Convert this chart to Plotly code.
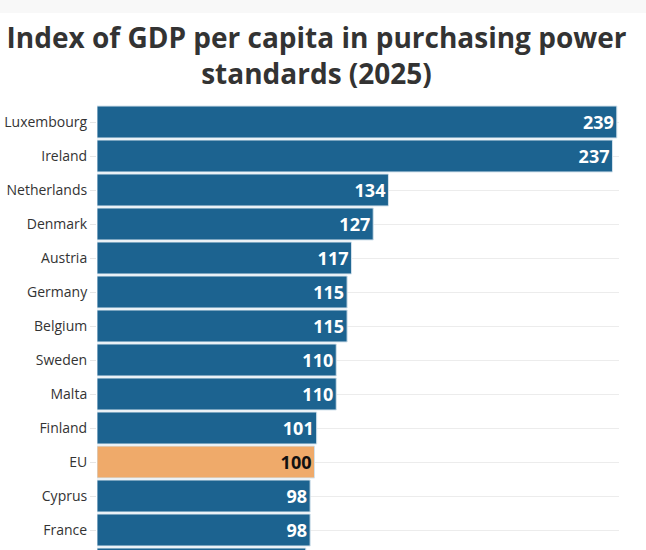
import plotly.graph_objects as go

countries = ["Luxembourg", "Ireland", "Netherlands", "Denmark", "Austria", "Germany",
             "Belgium", "Sweden", "Malta", "Finland", "EU", "Cyprus", "France", "Italy"]
values = [239, 237, 134, 127, 117, 115, 115, 110, 110, 101, 100, 98, 98, 96]

BLUE = "#1c6390"
ORANGE = "#efaa6a"
colors = [ORANGE if c == "EU" else BLUE for c in countries]
text_colors = ["#111111" if c == "EU" else "#ffffff" for c in countries]

fig = go.Figure(go.Bar(
    x=values, y=countries, orientation="h",
    marker=dict(color=colors, line=dict(color="#d3e2ec", width=1)),
    text=[str(v) for v in values], textposition="inside", insidetextanchor="end",
    textfont=dict(family="Open Sans", size=18, color=text_colors, weight="bold"),
    cliponaxis=False,
))

fig.update_layout(
    width=646, height=550,
    margin=dict(l=97, r=27, t=105, b=0),
    paper_bgcolor="white", plot_bgcolor="white",
    bargap=0.06,
    showlegend=False,
    title=dict(text="Index of GDP per capita in purchasing power<br>standards (2025)",
               x=0.49, xanchor="center", y=0.913, yanchor="top",
               font=dict(family="Open Sans", size=28, color="#333333", weight="bold")),
    xaxis=dict(range=[0, 240], visible=False, fixedrange=True),
    yaxis=dict(range=[12.588, -0.5], showgrid=True, gridcolor="#ececec", gridwidth=1,
               ticks="outside", ticklen=6, tickcolor="#e6e6e6",
               tickfont=dict(family="Open Sans", size=14, color="#333333"),
               showline=False, zeroline=False, fixedrange=True),
    shapes=[dict(type="rect", xref="paper", yref="paper", x0=-0.2, x1=1.1,
                 y0=1.0 + (105 - 13) / 445, y1=1.3, fillcolor="#f8f8f8", line=dict(width=0),
                 layer="below")],
)

fig.write_html("out.html", config={"displayModeBar": False},
               post_script="document.body.style.margin='0';")
